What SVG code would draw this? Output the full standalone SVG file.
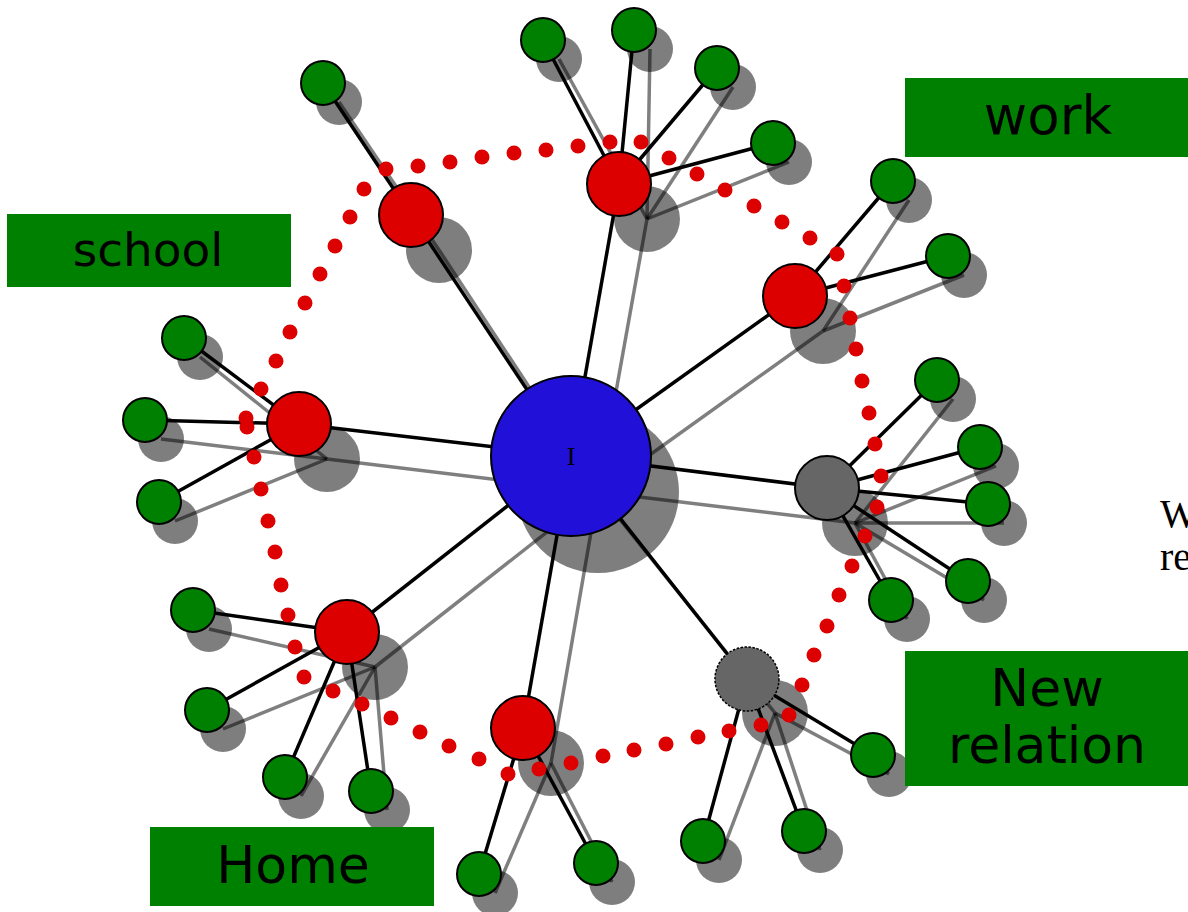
<svg xmlns="http://www.w3.org/2000/svg" width="1188" height="912" viewBox="0 0 1188 912">
<style>
.shc{fill:#000}
.shl{stroke:#000;stroke-opacity:0.5;stroke-width:3.5;fill:none}
.e{stroke:#000;stroke-width:3.5;fill:none}
.n{stroke:#000;stroke-width:2}
.gr{fill:#008000}
.rd{fill:#dd0000}
.gy{fill:#666666}
.dot{fill:#dd0000}
.box{fill:#008000}
.lt{font-family:"DejaVu Sans","Verdana",sans-serif;fill:#000;text-anchor:middle}
.serif{font-family:"Liberation Serif","Times New Roman",serif;fill:#000}
</style>
<rect width="1188" height="912" fill="#fff"/>

<!-- shadows -->
<g id="shadows">
  <g opacity="0.5" class="shc">
    <circle cx="598" cy="492" r="81"/>
    <circle cx="439" cy="250" r="33"/>
    <circle cx="647" cy="219" r="33"/>
    <circle cx="823" cy="331" r="33"/>
    <circle cx="327" cy="459" r="33"/>
    <circle cx="375" cy="667" r="33"/>
    <circle cx="551" cy="763" r="33"/>
    <circle cx="855" cy="523" r="33"/>
    <circle cx="775" cy="713" r="33"/>
    <circle cx="339" cy="102" r="23"/>
    <circle cx="559" cy="59" r="23"/>
    <circle cx="650" cy="49" r="23"/>
    <circle cx="733" cy="87" r="23"/>
    <circle cx="789" cy="162" r="23"/>
    <circle cx="909" cy="200" r="23"/>
    <circle cx="964" cy="275" r="23"/>
    <circle cx="200" cy="357" r="23"/>
    <circle cx="161" cy="439" r="23"/>
    <circle cx="175" cy="521" r="23"/>
    <circle cx="209" cy="629" r="23"/>
    <circle cx="223" cy="729" r="23"/>
    <circle cx="301" cy="796" r="23"/>
    <circle cx="387" cy="810" r="23"/>
    <circle cx="495" cy="893" r="23"/>
    <circle cx="612" cy="882" r="23"/>
    <circle cx="953" cy="399" r="23"/>
    <circle cx="996" cy="466" r="23"/>
    <circle cx="1004" cy="523" r="23"/>
    <circle cx="984" cy="600" r="23"/>
    <circle cx="907" cy="619" r="23"/>
    <circle cx="719" cy="860" r="23"/>
    <circle cx="820" cy="850" r="23"/>
    <circle cx="889" cy="774" r="23"/>
  </g>
  <g class="shl">
    <line x1="598" y1="492" x2="439" y2="250"/>
    <line x1="598" y1="492" x2="647" y2="219"/>
    <line x1="598" y1="492" x2="823" y2="331"/>
    <line x1="598" y1="492" x2="327" y2="459"/>
    <line x1="598" y1="492" x2="375" y2="667"/>
    <line x1="598" y1="492" x2="551" y2="763"/>
    <line x1="598" y1="492" x2="855" y2="523"/>
    <line x1="598" y1="492" x2="775" y2="713"/>
    <line x1="439" y1="250" x2="339" y2="102"/>
    <line x1="647" y1="219" x2="559" y2="59"/>
    <line x1="647" y1="219" x2="650" y2="49"/>
    <line x1="647" y1="219" x2="733" y2="87"/>
    <line x1="647" y1="219" x2="789" y2="162"/>
    <line x1="823" y1="331" x2="909" y2="200"/>
    <line x1="823" y1="331" x2="964" y2="275"/>
    <line x1="327" y1="459" x2="200" y2="357"/>
    <line x1="327" y1="459" x2="161" y2="439"/>
    <line x1="327" y1="459" x2="175" y2="521"/>
    <line x1="375" y1="667" x2="209" y2="629"/>
    <line x1="375" y1="667" x2="223" y2="729"/>
    <line x1="375" y1="667" x2="301" y2="796"/>
    <line x1="375" y1="667" x2="387" y2="810"/>
    <line x1="551" y1="763" x2="495" y2="893"/>
    <line x1="551" y1="763" x2="612" y2="882"/>
    <line x1="855" y1="523" x2="953" y2="399"/>
    <line x1="855" y1="523" x2="996" y2="466"/>
    <line x1="855" y1="523" x2="1004" y2="523"/>
    <line x1="855" y1="523" x2="984" y2="600"/>
    <line x1="855" y1="523" x2="907" y2="619"/>
    <line x1="775" y1="713" x2="719" y2="860"/>
    <line x1="775" y1="713" x2="820" y2="850"/>
    <line x1="775" y1="713" x2="889" y2="774"/>
  </g>
</g>

<!-- connectors -->
<g id="connectors" class="e">
  <line x1="571" y1="456" x2="411" y2="215"/>
  <line x1="571" y1="456" x2="619" y2="184"/>
  <line x1="571" y1="456" x2="795" y2="296"/>
  <line x1="571" y1="456" x2="299" y2="424"/>
  <line x1="571" y1="456" x2="347" y2="632"/>
  <line x1="571" y1="456" x2="523" y2="728"/>
  <line x1="571" y1="456" x2="827" y2="488"/>
  <line x1="571" y1="456" x2="747" y2="679"/>
  <line x1="411" y1="215" x2="323" y2="83"/>
  <line x1="619" y1="184" x2="543" y2="40"/>
  <line x1="619" y1="184" x2="634" y2="30"/>
  <line x1="619" y1="184" x2="717" y2="68"/>
  <line x1="619" y1="184" x2="773" y2="143"/>
  <line x1="795" y1="296" x2="893" y2="181"/>
  <line x1="795" y1="296" x2="948" y2="256"/>
  <line x1="299" y1="424" x2="184" y2="338"/>
  <line x1="299" y1="424" x2="145" y2="420"/>
  <line x1="299" y1="424" x2="159" y2="502"/>
  <line x1="347" y1="632" x2="193" y2="610"/>
  <line x1="347" y1="632" x2="207" y2="710"/>
  <line x1="347" y1="632" x2="285" y2="777"/>
  <line x1="347" y1="632" x2="371" y2="791"/>
  <line x1="523" y1="728" x2="479" y2="874"/>
  <line x1="523" y1="728" x2="596" y2="863"/>
  <line x1="827" y1="488" x2="937" y2="380"/>
  <line x1="827" y1="488" x2="980" y2="447"/>
  <line x1="827" y1="488" x2="988" y2="504"/>
  <line x1="827" y1="488" x2="968" y2="581"/>
  <line x1="827" y1="488" x2="891" y2="600"/>
  <line x1="747" y1="679" x2="703" y2="841"/>
  <line x1="747" y1="679" x2="804" y2="831"/>
  <line x1="747" y1="679" x2="873" y2="755"/>
</g>

<!-- dotted ring -->
<g id="ring" class="dot">
  <circle cx="246" cy="418" r="7.5"/><circle cx="247" cy="427" r="7.5"/>
  <circle cx="261" cy="389" r="7.5"/><circle cx="276" cy="361" r="7.5"/>
  <circle cx="290" cy="332" r="7.5"/><circle cx="305" cy="303" r="7.5"/>
  <circle cx="320" cy="274" r="7.5"/><circle cx="335" cy="246" r="7.5"/>
  <circle cx="350" cy="217" r="7.5"/><circle cx="364" cy="189" r="7.5"/>
  <circle cx="386" cy="169" r="7.5"/><circle cx="418" cy="166" r="7.5"/>
  <circle cx="450" cy="162" r="7.5"/><circle cx="482" cy="157" r="7.5"/>
  <circle cx="514" cy="153" r="7.5"/><circle cx="546" cy="150" r="7.5"/>
  <circle cx="578" cy="146" r="7.5"/><circle cx="610" cy="142" r="7.5"/>
  <circle cx="641" cy="142" r="7.5"/><circle cx="669" cy="158" r="7.5"/>
  <circle cx="697" cy="174" r="7.5"/><circle cx="725" cy="190" r="7.5"/>
  <circle cx="754" cy="206" r="7.5"/><circle cx="782" cy="222" r="7.5"/>
  <circle cx="810" cy="238" r="7.5"/><circle cx="837" cy="254" r="7.5"/>
  <circle cx="844" cy="286" r="7.5"/><circle cx="850" cy="318" r="7.5"/>
  <circle cx="856" cy="349" r="7.5"/><circle cx="862" cy="381" r="7.5"/>
  <circle cx="869" cy="413" r="7.5"/><circle cx="875" cy="444" r="7.5"/>
  <circle cx="881" cy="476" r="7.5"/><circle cx="877" cy="507" r="7.5"/>
  <circle cx="865" cy="536" r="7.5"/><circle cx="852" cy="566" r="7.5"/>
  <circle cx="839" cy="595" r="7.5"/><circle cx="827" cy="626" r="7.5"/>
  <circle cx="814" cy="655" r="7.5"/><circle cx="802" cy="685" r="7.5"/>
  <circle cx="789" cy="715" r="7.5"/><circle cx="761" cy="725" r="7.5"/>
  <circle cx="729" cy="731" r="7.5"/><circle cx="698" cy="737" r="7.5"/>
  <circle cx="666" cy="744" r="7.5"/><circle cx="634" cy="750" r="7.5"/>
  <circle cx="603" cy="756" r="7.5"/><circle cx="571" cy="763" r="7.5"/>
  <circle cx="539" cy="769" r="7.5"/><circle cx="508" cy="774" r="7.5"/>
  <circle cx="479" cy="759" r="7.5"/><circle cx="449" cy="746" r="7.5"/>
  <circle cx="420" cy="732" r="7.5"/><circle cx="391" cy="718" r="7.5"/>
  <circle cx="362" cy="704" r="7.5"/><circle cx="333" cy="691" r="7.5"/>
  <circle cx="304" cy="677" r="7.5"/><circle cx="295" cy="647" r="7.5"/>
  <circle cx="288" cy="615" r="7.5"/><circle cx="281" cy="585" r="7.5"/>
  <circle cx="275" cy="552" r="7.5"/><circle cx="268" cy="521" r="7.5"/>
  <circle cx="261" cy="489" r="7.5"/><circle cx="254" cy="457" r="7.5"/>
</g>

<!-- nodes -->
<g id="node-center"><circle class="n" cx="571" cy="456" r="80" fill="#2010d8"/><text class="serif" x="571" y="465" font-size="26" text-anchor="middle">I</text></g>
<g id="node-r1"><circle class="n rd" cx="411" cy="215" r="32"/></g>
<g id="node-r2"><circle class="n rd" cx="619" cy="184" r="32"/></g>
<g id="node-r3"><circle class="n rd" cx="795" cy="296" r="32"/></g>
<g id="node-r4"><circle class="n rd" cx="299" cy="424" r="32"/></g>
<g id="node-r5"><circle class="n rd" cx="347" cy="632" r="32"/></g>
<g id="node-r6"><circle class="n rd" cx="523" cy="728" r="32"/></g>
<g id="node-gy1"><circle class="n gy" cx="827" cy="488" r="32"/></g>
<g id="node-gy2"><circle class="gy" cx="747" cy="679" r="32" stroke="#000" stroke-width="1.5" stroke-dasharray="2.5 1.5"/></g>
<g id="node-g1"><circle class="n gr" cx="323" cy="83" r="22"/></g>
<g id="node-g2"><circle class="n gr" cx="543" cy="40" r="22"/></g>
<g id="node-g3"><circle class="n gr" cx="634" cy="30" r="22"/></g>
<g id="node-g4"><circle class="n gr" cx="717" cy="68" r="22"/></g>
<g id="node-g5"><circle class="n gr" cx="773" cy="143" r="22"/></g>
<g id="node-g6"><circle class="n gr" cx="893" cy="181" r="22"/></g>
<g id="node-g7"><circle class="n gr" cx="948" cy="256" r="22"/></g>
<g id="node-g8"><circle class="n gr" cx="184" cy="338" r="22"/></g>
<g id="node-g9"><circle class="n gr" cx="145" cy="420" r="22"/></g>
<g id="node-g10"><circle class="n gr" cx="159" cy="502" r="22"/></g>
<g id="node-g11"><circle class="n gr" cx="193" cy="610" r="22"/></g>
<g id="node-g12"><circle class="n gr" cx="207" cy="710" r="22"/></g>
<g id="node-g13"><circle class="n gr" cx="285" cy="777" r="22"/></g>
<g id="node-g14"><circle class="n gr" cx="371" cy="791" r="22"/></g>
<g id="node-g15"><circle class="n gr" cx="479" cy="874" r="22"/></g>
<g id="node-g16"><circle class="n gr" cx="596" cy="863" r="22"/></g>
<g id="node-g17"><circle class="n gr" cx="937" cy="380" r="22"/></g>
<g id="node-g18"><circle class="n gr" cx="980" cy="447" r="22"/></g>
<g id="node-g19"><circle class="n gr" cx="988" cy="504" r="22"/></g>
<g id="node-g20"><circle class="n gr" cx="968" cy="581" r="22"/></g>
<g id="node-g21"><circle class="n gr" cx="891" cy="600" r="22"/></g>
<g id="node-g22"><circle class="n gr" cx="703" cy="841" r="22"/></g>
<g id="node-g23"><circle class="n gr" cx="804" cy="831" r="22"/></g>
<g id="node-g24"><circle class="n gr" cx="873" cy="755" r="22"/></g>

<!-- labels -->
<g id="label-work"><rect class="box" x="905" y="78" width="283" height="79"/><text class="lt" x="1048" y="134" font-size="53">work</text></g>
<g id="label-school"><rect class="box" x="7" y="214" width="284" height="73"/><text class="lt" x="148" y="266" font-size="47">school</text></g>
<g id="label-new"><rect class="box" x="905" y="651" width="283" height="135"/><text class="lt" x="1047" y="706" font-size="52">New</text><text class="lt" x="1047" y="763" font-size="52">relation</text></g>
<g id="label-home"><rect class="box" x="150" y="827" width="284" height="79"/><text class="lt" x="293" y="883" font-size="52">Home</text></g>

<text class="serif" x="1160" y="527" font-size="40">W</text>
<text class="serif" x="1160" y="570" font-size="40">re</text>
</svg>
